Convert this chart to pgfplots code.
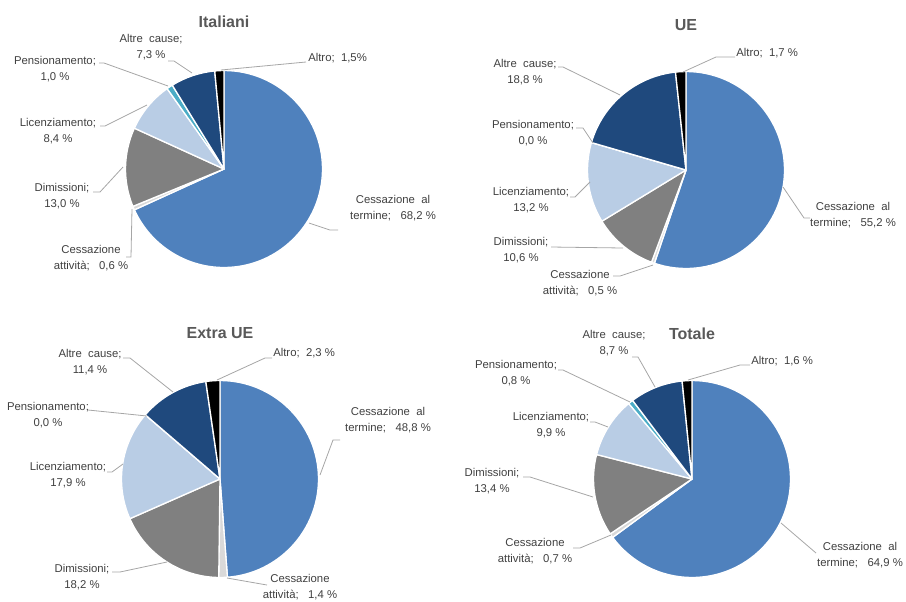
\documentclass[border=0pt]{standalone}
\usepackage{pgfplots}
\usepackage{pgfplotstable}
\pgfplotsset{compat=1.18}
\usepackage{fontspec}
\setmainfont{Liberation Sans}

\definecolor{c0}{HTML}{4F81BD}
\definecolor{c1}{HTML}{D9D9D9}
\definecolor{c2}{HTML}{808080}
\definecolor{c3}{HTML}{B9CDE5}
\definecolor{c4}{HTML}{4BACC6}
\definecolor{c5}{HTML}{1F497D}
\definecolor{c6}{HTML}{000000}
\definecolor{labtxt}{HTML}{404040}
\definecolor{tittxt}{HTML}{595959}
\definecolor{leader}{HTML}{A6A6A6}

% shares in %: term, cess. attivita, dimissioni, licenz., pension., altre cause, altro
\pgfplotstableread{
cat pct
term 68.2
att 0.6
dim 13.0
lic 8.4
pen 1.0
altc 7.3
altro 1.5
}\tabIta
\pgfplotstableread{
cat pct
term 55.2
att 0.5
dim 10.6
lic 13.2
pen 0.0
altc 18.8
altro 1.7
}\tabUE
\pgfplotstableread{
cat pct
term 48.8
att 1.4
dim 18.2
lic 17.9
pen 0.0
altc 11.4
altro 2.3
}\tabExtra
\pgfplotstableread{
cat pct
term 64.9
att 0.7
dim 13.4
lic 9.9
pen 0.8
altc 8.7
altro 1.6
}\tabTot

% pie drawn clockwise from the top, centre (#2,#3) in axis units
\newcommand\pie[3]{%
  \xdef\acc{90}%
  \pgfplotstableforeachcolumnelement{pct}\of#1\as\v{%
    \pgfmathsetmacro\aend{\acc-3.6*\v}%
    \pgfmathsetmacro\xs{#2+98.5*cos(\acc)}%
    \pgfmathsetmacro\ys{#3-98.5*sin(\acc)}%
    \edef\cmd{\noexpand\fill[c\pgfplotstablerow, draw=white, line width=1pt, line join=round]
      (axis cs:#2,#3) -- (axis cs:\xs,\ys)
      arc[start angle=\acc, end angle=\aend, radius=73.875pt] -- cycle;}%
    \cmd
    \xdef\acc{\aend}%
  }%
}

\tikzset{
  lab/.style={font=\fontsize{8.5}{12.4}\selectfont, text=labtxt, align=center, inner sep=0pt},
  tit/.style={font=\fontsize{12}{14}\selectfont\bfseries, text=tittxt, inner sep=0pt},
  ld/.style={draw=leader, line width=0.6pt},
}

\begin{document}
\begin{tikzpicture}
\begin{axis}[
    x=0.75pt, y=0.75pt,
    xmin=0, xmax=906, ymin=0, ymax=601,
    y dir=reverse,
    hide axis, clip=false,
]
\path (axis cs:0,0) rectangle (axis cs:906,601);

% ---- Italiani
\pie{\tabIta}{224}{169}
\node[tit] at (axis cs:224,22) {Italiani};
\draw[ld] (axis cs:168,61) -- (axis cs:174,61) -- (axis cs:192,73);
\draw[ld] (axis cs:99,63) -- (axis cs:104,63) -- (axis cs:168,86);
\draw[ld] (axis cs:306,62) -- (axis cs:221,70);
\draw[ld] (axis cs:100,126) -- (axis cs:105,126) -- (axis cs:147,105);
\draw[ld] (axis cs:93,192) -- (axis cs:100,192) -- (axis cs:123,167);
\draw[ld] (axis cs:126,257) -- (axis cs:131,257) -- (axis cs:132,209);
\draw[ld] (axis cs:338,230) -- (axis cs:330,230) -- (axis cs:309,223);
\node[lab] at (axis cs:151,47) {Altre~~cause;\\7,3 \%};
\node[lab] at (axis cs:55,69) {Pensionamento;\\1,0 \%};
\node[lab, anchor=west] at (axis cs:308,58) {Altro;~~1,5\%};
\node[lab] at (axis cs:58,131) {Licenziamento;\\8,4 \%};
\node[lab] at (axis cs:62,196) {Dimissioni;\\13,0 \%};
\node[lab] at (axis cs:91,258) {Cessazione\\attività;~~~0,6 \%};
\node[lab] at (axis cs:393,208) {Cessazione~~al\\termine;~~~68,2 \%};

% ---- UE
\pie{\tabUE}{686}{170}
\node[tit] at (axis cs:686,25) {UE};
\draw[ld] (axis cs:735,57) -- (axis cs:716,57) -- (axis cs:683,72);
\draw[ld] (axis cs:558,67) -- (axis cs:563,67) -- (axis cs:620,95);
\draw[ld] (axis cs:576,128) -- (axis cs:583,128) -- (axis cs:593,143);
\draw[ld] (axis cs:570,197) -- (axis cs:575,197) -- (axis cs:590,182);
\draw[ld] (axis cs:551,247) -- (axis cs:623,248);
\draw[ld] (axis cs:613,276) -- (axis cs:620,276) -- (axis cs:653,265);
\draw[ld] (axis cs:810,218) -- (axis cs:804,218) -- (axis cs:783,187);
\node[lab, anchor=west] at (axis cs:736,53) {Altro;~~1,7 \%};
\node[lab] at (axis cs:525,72) {Altre~~cause;\\18,8 \%};
\node[lab] at (axis cs:533,133) {Pensionamento;\\0,0 \%};
\node[lab] at (axis cs:531,200) {Licenziamento;\\13,2 \%};
\node[lab] at (axis cs:521,250) {Dimissioni;\\10,6 \%};
\node[lab] at (axis cs:580,283) {Cessazione\\attività;~~~0,5 \%};
\node[lab] at (axis cs:853,215) {Cessazione~~al\\termine;~~~55,2 \%};

% ---- Extra UE
\pie{\tabExtra}{220}{479}
\node[tit] at (axis cs:220,333) {Extra UE};
\draw[ld] (axis cs:272,358) -- (axis cs:265,358) -- (axis cs:217,380);
\draw[ld] (axis cs:123,358) -- (axis cs:130,358) -- (axis cs:173,392);
\draw[ld] (axis cs:88,410) -- (axis cs:147,416);
\draw[ld] (axis cs:107,472) -- (axis cs:112,472) -- (axis cs:123,464);
\draw[ld] (axis cs:112,572) -- (axis cs:120,572) -- (axis cs:167,562);
\draw[ld] (axis cs:267,585) -- (axis cs:227,578);
\draw[ld] (axis cs:340,440) -- (axis cs:333,440) -- (axis cs:320,475);
\node[lab, anchor=west] at (axis cs:273,353) {Altro;~~2,3 \%};
\node[lab] at (axis cs:90,362) {Altre~~cause;\\11,4 \%};
\node[lab] at (axis cs:48,415) {Pensionamento;\\0,0 \%};
\node[lab] at (axis cs:68,475) {Licenziamento;\\17,9 \%};
\node[lab] at (axis cs:82,577) {Dimissioni;\\18,2 \%};
\node[lab] at (axis cs:300,587) {Cessazione\\attività;~~~1,4 \%};
\node[lab] at (axis cs:388,420) {Cessazione~~al\\termine;~~~48,8 \%};

% ---- Totale
\pie{\tabTot}{692}{479}
\node[tit] at (axis cs:692,334) {Totale};
\draw[ld] (axis cs:632,357) -- (axis cs:638,357) -- (axis cs:655,387);
\draw[ld] (axis cs:750,365) -- (axis cs:740,365) -- (axis cs:688,380);
\draw[ld] (axis cs:558,370) -- (axis cs:563,370) -- (axis cs:630,402);
\draw[ld] (axis cs:590,422) -- (axis cs:595,422) -- (axis cs:608,427);
\draw[ld] (axis cs:523,477) -- (axis cs:530,477) -- (axis cs:593,497);
\draw[ld] (axis cs:573,548) -- (axis cs:580,548) -- (axis cs:611,535);
\draw[ld] (axis cs:816,553) -- (axis cs:781,523);
\node[lab] at (axis cs:614,343) {Altre~~cause;\\8,7 \%};
\node[lab, anchor=west] at (axis cs:751,361) {Altro;~~1,6 \%};
\node[lab] at (axis cs:516,373) {Pensionamento;\\0,8 \%};
\node[lab] at (axis cs:551,425) {Licenziamento;\\9,9 \%};
\node[lab] at (axis cs:492,481) {Dimissioni;\\13,4 \%};
\node[lab] at (axis cs:535,551) {Cessazione\\attività;~~~0,7 \%};
\node[lab] at (axis cs:860,555) {Cessazione~~al\\termine;~~~64,9 \%};
\end{axis}
\end{tikzpicture}
\end{document}
